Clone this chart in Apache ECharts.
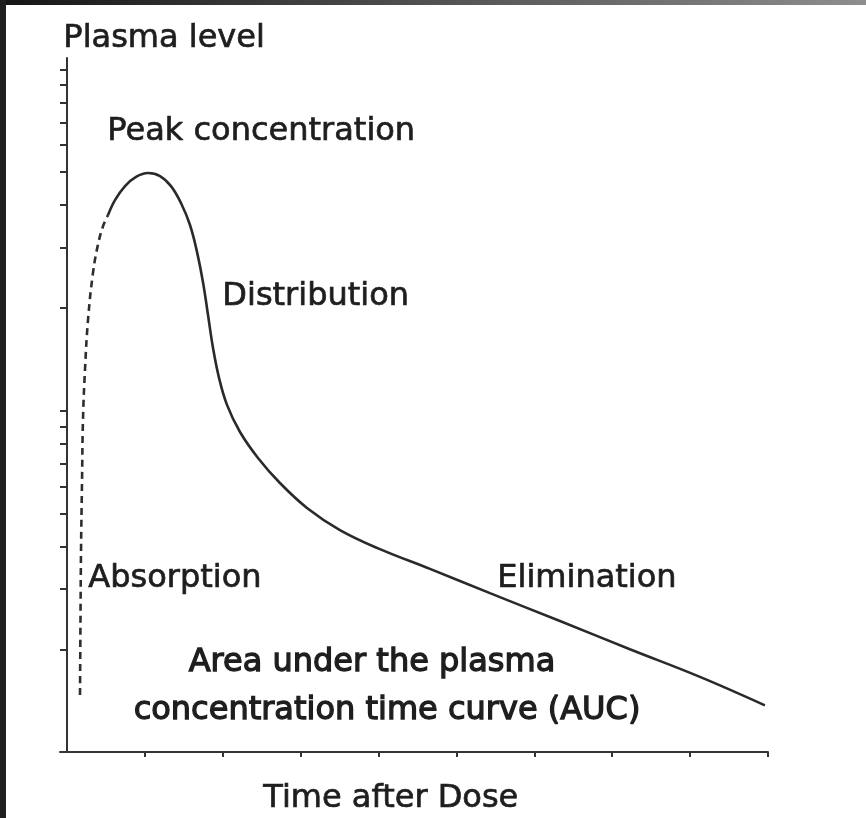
<!DOCTYPE html>
<html>
<head>
    <meta charset="utf-8">
    <title>Plasma level</title>
    <script src="https://cdn.jsdelivr.net/npm/echarts@6/dist/echarts.min.js"></script>
    <style>
        html, body { margin: 0; padding: 0; background: #fff; }
        #chart { width: 866px; height: 818px; }
    </style>
</head>
<body>
<div id="chart"></div>
<script type="text/javascript">
    // absorption phase (dashed)
    var absorptionX = [0.167, 0.173, 0.18, 0.193, 0.205, 0.231, 0.27, 0.334, 0.398, 0.462, 0.526];
    var absorptionY = [1.47, 2.44, 3.91, 6.28, 9.41, 13.2, 18.5, 25.4, 30.7, 34.7, 37.4];

    // peak, distribution and elimination (solid)
    var curveX = [0.526, 0.616, 0.745, 0.886, 1.04, 1.194, 1.335, 1.463, 1.579, 1.669, 1.746, 1.81, 1.874, 1.951, 2.054, 2.221, 2.452, 2.734, 3.081, 3.504, 4.018, 4.66, 5.43, 6.329, 7.227, 8.126, 8.96];
    var curveY = [37.4, 41.4, 45.5, 48.4, 49.7, 48.7, 45.5, 40.6, 35.0, 29.2, 23.8, 19.1, 15.3, 12.5, 10.4, 8.66, 7.27, 6.14, 5.19, 4.47, 3.93, 3.44, 2.92, 2.42, 2.00, 1.66, 1.37];

    var xTicks = [1, 2, 3, 4, 5, 6, 7, 8, 9];
    var yTicks = [2, 3, 4, 5, 6, 7, 8, 9, 10, 20, 30, 40, 50, 60, 70, 80, 90, 100];

    function pairs(xs, ys) {
        var out = [];
        for (var i = 0; i < xs.length; i++) out.push([xs[i], ys[i]]);
        return out;
    }

    function label(text, left, top, heavy) {
        return {
            type: 'text', left: left, top: top,
            style: {
                text: text, fill: '#1e1e1e', fontFamily: 'DejaVu Sans', fontSize: 32,
                stroke: '#1e1e1e', lineWidth: heavy ? 1.3 : 0.7
            }
        };
    }

    var myChart = echarts.init(document.getElementById('chart'));

    var option = {
        backgroundColor: '#fff',
        animation: false,
        grid: {left: 60, right: 98, top: 58, bottom: 66},
        xAxis: {
            type: 'value',
            min: -0.09,
            max: 9,
            axisLine: {show: true, lineStyle: {color: '#333', width: 2}},
            axisTick: {show: true, length: 5, customValues: xTicks, lineStyle: {color: '#333', width: 2}},
            axisLabel: {show: false},
            splitLine: {show: false}
        },
        yAxis: {
            type: 'log',
            logBase: 10,
            min: 1,
            max: 108,
            axisLine: {show: true, onZero: true, lineStyle: {color: '#333', width: 2}},
            axisTick: {show: true, length: 7, customValues: yTicks, lineStyle: {color: '#333', width: 2}},
            axisLabel: {show: false},
            splitLine: {show: false}
        },
        series: [{
            type: 'line',
            data: pairs(absorptionX, absorptionY),
            smooth: 0.4,
            symbol: 'none',
            lineStyle: {color: '#2e2e2e', width: 2.6, type: [7, 5]}
        }, {
            type: 'line',
            data: pairs(curveX, curveY),
            smooth: 0.4,
            symbol: 'none',
            lineStyle: {color: '#2a2a2a', width: 2.6}
        }],
        graphic: [
            {type: 'rect', left: 0, top: 0, shape: {width: 866, height: 5},
                style: {fill: new echarts.graphic.LinearGradient(0, 0, 1, 0, [
                    {offset: 0, color: '#151515'}, {offset: 1, color: '#8e8e8e'}])}},
            {type: 'rect', left: 0, top: 0, shape: {width: 6, height: 818}, style: {fill: '#1f1f1f'}},
            label('Plasma level', 63, 22),
            label('Peak concentration', 107, 115),
            label('Distribution', 222, 280),
            label('Absorption', 88, 562),
            label('Elimination', 497, 562),
            label('Area under the plasma', 188, 646, true),
            label('concentration time curve (AUC)', 133, 694, true),
            label('Time after Dose', 263, 782)
        ]
    };

    myChart.setOption(option);
</script>
</body>
</html>
